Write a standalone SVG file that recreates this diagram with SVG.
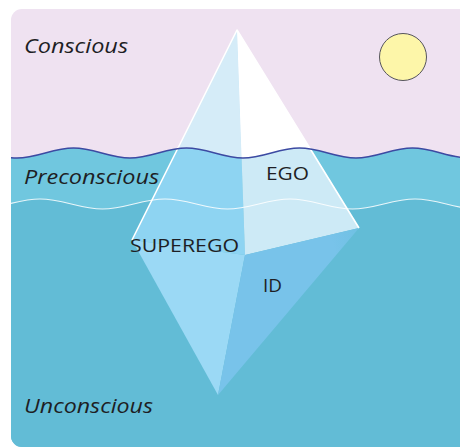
<svg xmlns="http://www.w3.org/2000/svg" width="460" height="448" viewBox="0 0 460 448">
  <style>
    .level { font-family: "Open Sans", "Noto Sans", "Liberation Sans", sans-serif; font-style: italic; font-size: 20px; fill: #1e1e24; }
    .part { font-family: "Open Sans", "Noto Sans", "Liberation Sans", sans-serif; font-size: 17.5px; fill: #1e1e24; }
    .edge { fill: none; stroke: #ffffff; stroke-width: 1.6; stroke-linejoin: round; }
  </style>
  <defs>
    <!-- rounded card the whole scene sits in -->
    <clipPath id="card">
      <rect x="11" y="9" width="470" height="438" rx="11" ry="11"/>
    </clipPath>
    <!-- everything above the surface wave -->
    <clipPath id="air">
      <path d="M -40 148 C -19.4 148, -3.6 158, 17 158 S 52.9 148, 73.5 148 S 109.4 158, 130 158 S 165.9 148, 186.5 148 S 222.4 158, 243 158 S 278.9 148, 299.5 148 S 335.4 158, 356 158 S 391.9 148, 412.5 148 S 448.4 158, 469 158 L 469 0 L -40 0 Z"/>
    </clipPath>
    <!-- the far face fades out a little toward its outer edge -->
    <linearGradient id="idShade" x1="245" y1="255" x2="359" y2="228" gradientUnits="userSpaceOnUse">
      <stop offset="0" stop-color="#78c3ea"/>
      <stop offset="0.75" stop-color="#78c3ea"/>
      <stop offset="1" stop-color="#6fc1e3"/>
    </linearGradient>
  </defs>

  <g clip-path="url(#card)">
    <!-- sky -->
    <rect x="0" y="0" width="480" height="460" fill="#efe2f1"/>
    <!-- preconscious band -->
    <path fill="#70c7df" d="M -40 148 C -19.4 148, -3.6 158, 17 158 S 52.9 148, 73.5 148 S 109.4 158, 130 158 S 165.9 148, 186.5 148 S 222.4 158, 243 158 S 278.9 148, 299.5 148 S 335.4 158, 356 158 S 391.9 148, 412.5 148 S 448.4 158, 469 158 L 480 460 L -40 460 Z"/>
    <!-- unconscious depths -->
    <path fill="#62bcd6" d="M -22.5 209 C 0.3 209, 17.2 199, 40 199 S 79.7 209, 102.5 209 S 142.2 199, 165 199 S 204.7 209, 227.5 209 S 267.2 199, 290 199 S 329.7 209, 352.5 209 S 392.2 199, 415 199 S 454.7 209, 477.5 209 L 480 460 L -40 460 Z"/>

    <!-- sun -->
    <circle id="sun" cx="403" cy="57" r="23.5" fill="#fdf6a9" stroke="#55545c" stroke-width="1"/>

    <!-- iceberg -->
    <g id="iceberg">
      <g id="superego-face">
        <polygon points="237,30 132,240 245,255" fill="#8ed4f2"/>
        <polygon points="132,240 245,255 218,395" fill="#9bd9f5"/>
      </g>
      <g id="ego-face">
        <polygon points="237,30 245,255 359,228" fill="#cdeaf6"/>
      </g>
      <g id="id-face">
        <polygon points="245,255 359,228 218,395" fill="url(#idShade)"/>
      </g>
      <!-- tip above the surface -->
      <g clip-path="url(#air)">
        <polygon points="237,30 132,240 245,255" fill="#d5ecf8"/>
        <polygon points="237,30 245,255 359,228" fill="#ffffff"/>
      </g>
      <polyline class="edge" points="132,240 237,30 359,228"/>
    </g>

    <!-- surface lines -->
    <g id="waves">
      <path fill="none" stroke="#3c4aa2" stroke-width="1.5" d="M -40 148 C -19.4 148, -3.6 158, 17 158 S 52.9 148, 73.5 148 S 109.4 158, 130 158 S 165.9 148, 186.5 148 S 222.4 158, 243 158 S 278.9 148, 299.5 148 S 335.4 158, 356 158 S 391.9 148, 412.5 148 S 448.4 158, 469 158"/>
      <path fill="none" stroke="#ffffff" stroke-opacity="0.85" stroke-width="1.2" d="M -22.5 209 C 0.3 209, 17.2 199, 40 199 S 79.7 209, 102.5 209 S 142.2 199, 165 199 S 204.7 209, 227.5 209 S 267.2 199, 290 199 S 329.7 209, 352.5 209 S 392.2 199, 415 199 S 454.7 209, 477.5 209"/>
    </g>
  </g>

  <!-- level labels -->
  <g id="conscious"><text class="level" x="24" y="53" textLength="104" lengthAdjust="spacingAndGlyphs">Conscious</text></g>
  <g id="preconscious"><text class="level" x="24" y="184" textLength="135" lengthAdjust="spacingAndGlyphs">Preconscious</text></g>
  <g id="unconscious"><text class="level" x="24" y="413" textLength="129" lengthAdjust="spacingAndGlyphs">Unconscious</text></g>

  <!-- structure labels -->
  <g id="ego"><text class="part" x="266" y="180" textLength="43" lengthAdjust="spacingAndGlyphs">EGO</text></g>
  <g id="superego"><text class="part" x="130" y="252" textLength="109" lengthAdjust="spacingAndGlyphs">SUPEREGO</text></g>
  <g id="id"><text class="part" x="263" y="292" textLength="19" lengthAdjust="spacingAndGlyphs">ID</text></g>
</svg>
